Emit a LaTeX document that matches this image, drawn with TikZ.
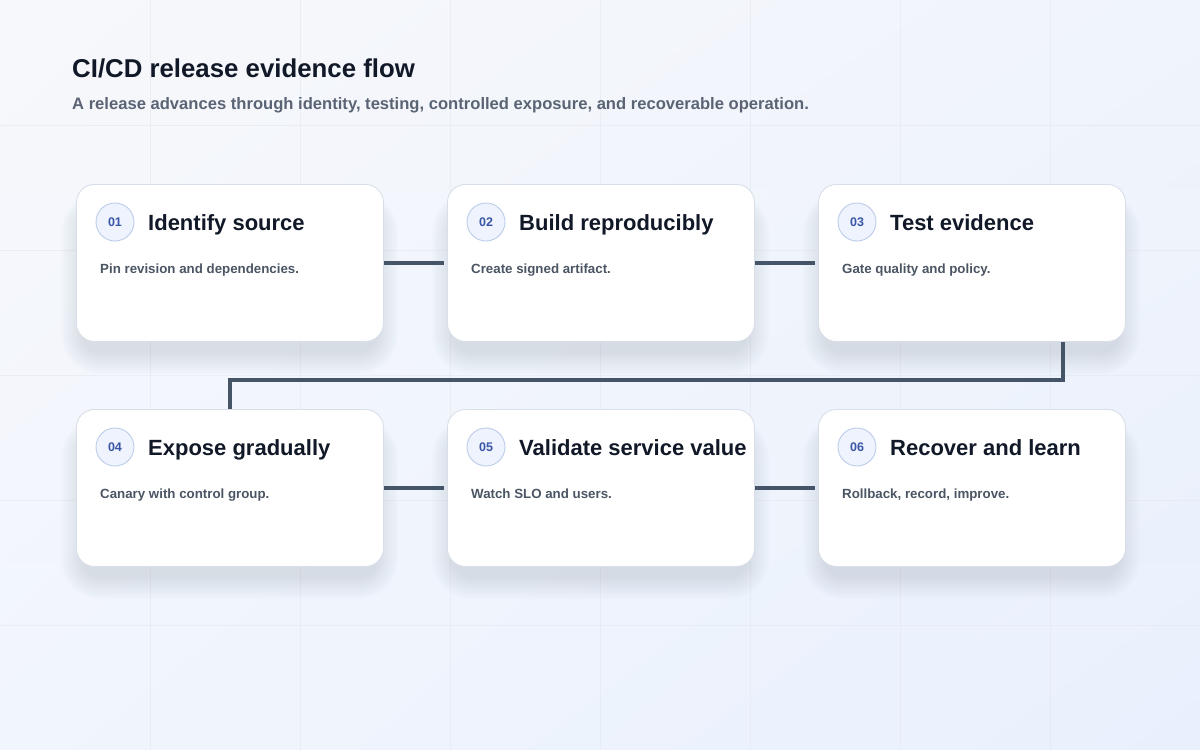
\documentclass[tikz,border=0pt]{standalone}
\usepackage{fontspec}
\setmainfont{Liberation Sans}
\usetikzlibrary{calc,shadings}
\definecolor{bgTL}{HTML}{F7F8FB}
\definecolor{bgTR}{HTML}{F0F4FB}
\definecolor{bgBL}{HTML}{F1F5FD}
\definecolor{bgBR}{HTML}{E9F0FD}
\definecolor{gridc}{HTML}{E2E7EF}
\definecolor{ink}{HTML}{111827}
\definecolor{subink}{HTML}{5B6475}
\definecolor{descink}{HTML}{4B5563}
\definecolor{cardborder}{HTML}{D9DFE9}
\definecolor{linkc}{HTML}{465467}
\definecolor{badgefill}{HTML}{EEF3FD}
\definecolor{badgeline}{HTML}{BCCDEB}
\definecolor{badgetext}{HTML}{3A56A6}
\definecolor{shadowc}{HTML}{8591AD}
\tikzset{
  card/.style={draw=cardborder, line width=0.9pt, fill=white, rounded corners=18pt,
    minimum width=307pt, minimum height=157pt, anchor=north west, inner sep=0pt},
  badge/.style={circle, draw=badgeline, line width=0.9pt, fill=badgefill,
    minimum size=38pt, inner sep=0pt, text=badgetext,
    font=\fontsize{12.5}{14}\selectfont\bfseries},
  ctitle/.style={anchor=base west, inner sep=0pt, text=ink,
    font=\fontsize{22}{26}\selectfont\bfseries},
  cdesc/.style={anchor=base west, inner sep=0pt, text=descink,
    font=\fontsize{13.3}{15}\selectfont\bfseries},
  link/.style={draw=linkc, line width=3.6pt, shorten >=3pt},
  shadowlayer/.style={fill=shadowc, opacity=0.018}
}
\newcommand\cardshadowat[2]{%
  \foreach \k [evaluate=\k as \dd using \k*1.9, evaluate=\k as \rr using 18+\k*1.9] in {0,...,11}{%
    \fill[shadowlayer, rounded corners=\rr pt] (#1+6-\dd,#2+22-\dd*0.6) rectangle (#1+301+\dd,#2+157+12+\dd);
  }%
}
\begin{document}
\begin{tikzpicture}[x=1pt,y=-1pt]
\useasboundingbox (0,0) rectangle (1200,750);
\shade[upper left=bgTL, upper right=bgTR, lower left=bgBL, lower right=bgBR] (0,0) rectangle (1200,750);
\foreach \gx in {150,300,...,1050} \draw[gridc, opacity=0.55, line width=0.8pt] (\gx,0) -- (\gx,750);
\foreach \gy in {125,250,...,625} \draw[gridc, opacity=0.55, line width=0.8pt] (0,\gy) -- (1200,\gy);

\node[anchor=base west, inner sep=0pt, text=ink, font=\fontsize{25.8}{30}\selectfont\bfseries] (title) at (72,77) {CI/CD release evidence flow};
\node[anchor=base west, inner sep=0pt, text=subink, font=\fontsize{16.6}{19}\selectfont\bfseries] (subtitle) at (72,109) {A release advances through identity, testing, controlled exposure, and recoverable operation.};

% shadows
\cardshadowat{76}{184}
\cardshadowat{447}{184}
\cardshadowat{818}{184}
\cardshadowat{76}{409}
\cardshadowat{447}{409}
\cardshadowat{818}{409}

% cards
\node[card] (c1) at (76,184) {};
\node[card] (c2) at (447,184) {};
\node[card] (c3) at (818,184) {};
\node[card] (c4) at (76,409) {};
\node[card] (c5) at (447,409) {};
\node[card] (c6) at (818,409) {};

% badges
\node[badge] (b1) at (115,222) {01};
\node[badge] (b2) at (486,222) {02};
\node[badge] (b3) at (857,222) {03};
\node[badge] (b4) at (115,447) {04};
\node[badge] (b5) at (486,447) {05};
\node[badge] (b6) at (857,447) {06};

% titles
\node[ctitle] (t1) at (148,230) {Identify source};
\node[ctitle] (t2) at (519,230) {Build reproducibly};
\node[ctitle] (t3) at (890,230) {Test evidence};
\node[ctitle] (t4) at (148,455) {Expose gradually};
\node[ctitle] (t5) at (519,455) {Validate service value};
\node[ctitle] (t6) at (890,455) {Recover and learn};

% descriptions
\node[cdesc] (d1) at (100,273) {Pin revision and dependencies.};
\node[cdesc] (d2) at (471,273) {Create signed artifact.};
\node[cdesc] (d3) at (842,273) {Gate quality and policy.};
\node[cdesc] (d4) at (100,498) {Canary with control group.};
\node[cdesc] (d5) at (471,498) {Watch SLO and users.};
\node[cdesc] (d6) at (842,498) {Rollback, record, improve.};

% connectors
\draw[link] (c1.east) -- (c2.west);
\draw[link] (c2.east) -- (c3.west);
\draw[link] (c4.east) -- (c5.west);
\draw[link] (c5.east) -- (c6.west);
\coordinate (turn) at ($(c3.south)+(91,38)$);
\draw[link, shorten >=0pt, line join=miter] ([xshift=91pt]c3.south) -- (turn) -| (c4.north);
\end{tikzpicture}
\end{document}
